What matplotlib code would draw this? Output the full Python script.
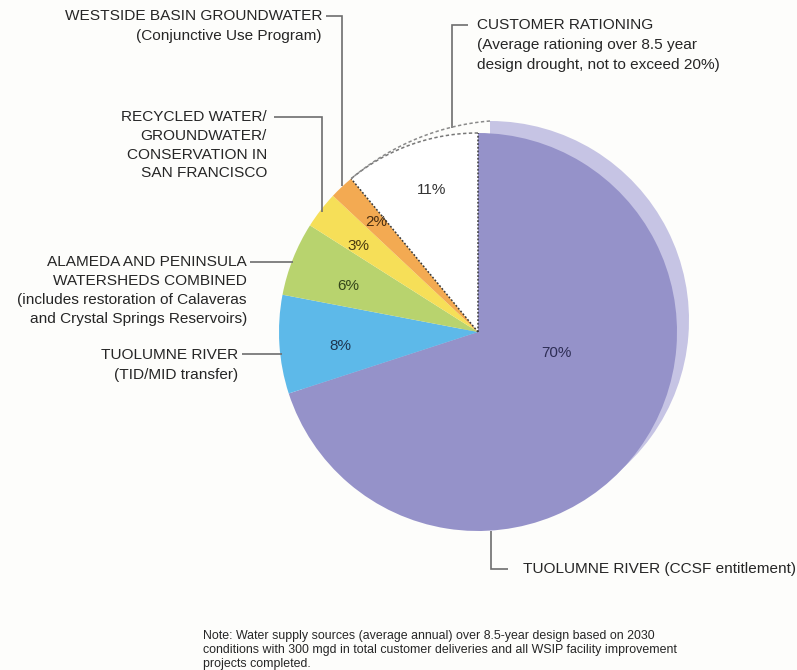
import numpy as np
import matplotlib
matplotlib.use("Agg")
import matplotlib.pyplot as plt
from matplotlib.patches import Wedge

plt.rcParams["font.family"] = ["Liberation Sans", "DejaVu Sans"]

# Water supply sources (percent of average annual supply), clockwise from top
sources = [
    "TUOLUMNE RIVER (CCSF entitlement)",
    "TUOLUMNE RIVER (TID/MID transfer)",
    "ALAMEDA AND PENINSULA WATERSHEDS COMBINED",
    "RECYCLED WATER/GROUNDWATER/CONSERVATION IN SAN FRANCISCO",
    "WESTSIDE BASIN GROUNDWATER",
    "CUSTOMER RATIONING",
]
shares = [70, 8, 6, 3, 2, 11]
colors = ["#9592C9", "#5DB9E9", "#B8D36E", "#F6DF58", "#F3AA52", "#FFFFFF"]
pct_colors = ["#2E2E55", "#1E3550", "#34461A", "#4A3A10", "#4A2E10", "#333333"]

W, H = 797, 670
BG = "#FDFDFB"
fig = plt.figure(figsize=(W / 100, H / 100), dpi=100, facecolor=BG)
ax = fig.add_axes([0, 0, 1, 1])
ax.set_facecolor(BG)


def Y(y):
    """Convert a top-down pixel row into the axes' bottom-up coordinate."""
    return H - y


cx, cy, R = 478, Y(332), 199
dx, dy = 12, 12  # depth offset for the raised rim

wedges, _ = ax.pie(shares, colors=colors, startangle=90, counterclock=False,
                   center=(cx, cy), radius=R, frame=True,
                   wedgeprops=dict(linewidth=0, antialiased=True))
ax.set_xlim(0, W)
ax.set_ylim(0, H)
ax.set_aspect("equal")
ax.axis("off")
for w in wedges:
    w.set_zorder(3)

# Light rim behind the largest slice
big = wedges[0]
rim = Wedge((cx + dx, cy + dy), R, big.theta1, big.theta2,
            facecolor="#C6C4E4", edgecolor="none", zorder=2)
ax.add_patch(rim)

# Dotted outline of the rationing slice
white = wedges[-1]
t1, t2 = np.radians(white.theta1), np.radians(white.theta2)
for t in (t1, t2):
    ax.plot([cx, cx + R * np.cos(t)], [cy, cy + R * np.sin(t)],
            color="#3A3A3A", lw=1.1, ls=(0, (1.2, 1.2)), zorder=5)
tt = np.linspace(t1, t2, 80)
ax.plot(cx + R * np.cos(tt), cy + R * np.sin(tt),
        color="#777777", lw=1.1, ls=(0, (2.2, 1.6)), zorder=5)
# upper edge of the rationing slice, merging into the rim
fade = (t2 - tt) / (t2 - t1)
ax.plot(cx + dx * fade + R * np.cos(tt), cy + dy * fade + R * np.sin(tt),
        color="#8A8A8A", lw=1.1, ls=(0, (2.2, 1.6)), zorder=5)

# Percentage labels
pct_pos = [(556, 353), (340, 346), (348, 286), (358, 246), (376, 222), (432, 190)]
for v, (px, py), c in zip(shares, pct_pos, pct_colors):
    ax.text(px, Y(py), f"{v}%", ha="center", va="center", fontsize=11,
            color=c, zorder=6)

TXT = "#262626"
LINE = "#6E6E6E"
LW = 1.2
FS = 11.1


def lines_block(x, y0, lines, ha, step=19.5):
    for i, s in enumerate(lines):
        ax.text(x, Y(y0 + i * step), s, ha=ha, va="center", fontsize=FS,
                color=TXT, zorder=6)


def leader(pts):
    xs, ys = zip(*pts)
    ax.plot(xs, [Y(v) for v in ys], color=LINE, lw=LW, zorder=4,
            solid_capstyle="butt", solid_joinstyle="miter")


# Westside Basin groundwater
lines_block(322, 16, ["WESTSIDE BASIN GROUNDWATER", "(Conjunctive Use Program)"], "right", step=20)
leader([(326, 16), (342, 16), (342, 186)])

# Recycled water / groundwater / conservation
lines_block(267, 117, ["RECYCLED WATER/", "GROUNDWATER/", "CONSERVATION IN",
                       "SAN FRANCISCO"], "right", step=18.8)
leader([(274, 117), (322, 117), (322, 212)])

# Alameda and Peninsula watersheds
lines_block(247, 262, ["ALAMEDA AND PENINSULA", "WATERSHEDS COMBINED",
                       "(includes restoration of Calaveras",
                       "and Crystal Springs Reservoirs)"], "right", step=19)
leader([(250, 262), (293, 262)])

# Tuolumne River TID/MID transfer
lines_block(238, 355, ["TUOLUMNE RIVER", "(TID/MID transfer)"], "right", step=20)
leader([(242, 354), (282, 354)])

# Customer rationing
lines_block(477, 25, ["CUSTOMER RATIONING", "(Average rationing over 8.5 year",
                      "design drought, not to exceed 20%)"], "left", step=20)
leader([(468, 25), (452, 25), (452, 128)])

# Tuolumne River CCSF entitlement
ax.text(523, Y(569), "TUOLUMNE RIVER (CCSF entitlement)", ha="left", va="center",
        fontsize=FS, color=TXT, zorder=6, clip_on=False)
leader([(491, 531), (491, 569), (508, 569)])

# Note
note = ["Note: Water supply sources (average annual) over 8.5-year design based on 2030",
        "conditions with 300 mgd in total customer deliveries and all WSIP facility improvement",
        "projects completed."]
for i, s in enumerate(note):
    ax.text(203, Y(636 + i * 14), s, ha="left", va="center", fontsize=8.9,
            color=TXT, zorder=6)

fig.savefig("out.png", dpi=100, facecolor=BG)
